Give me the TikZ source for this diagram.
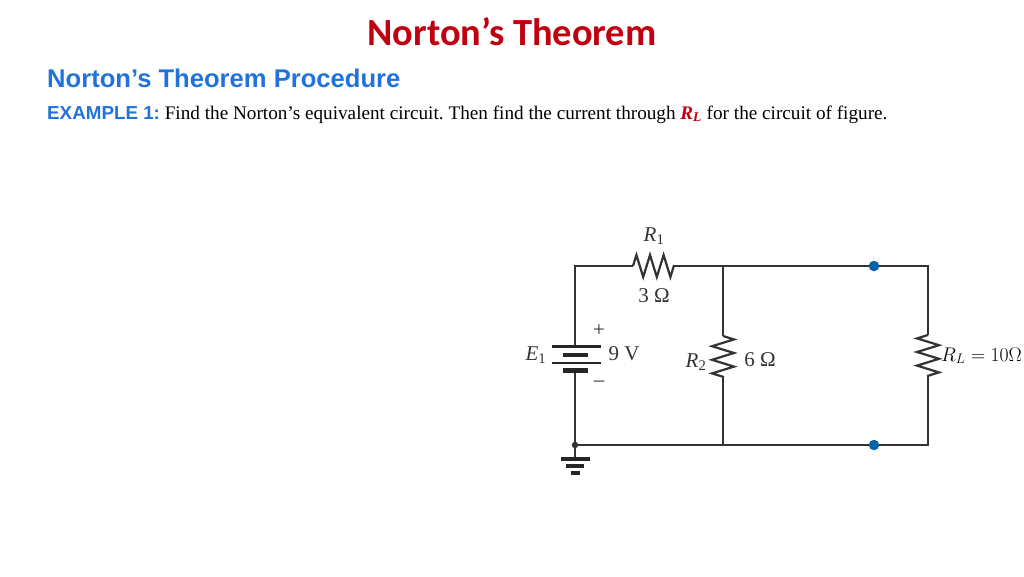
\documentclass[tikz,border=0pt]{standalone}
\usepackage{fix-cm}
\usepackage{fontspec}
\setmainfont{Liberation Serif}
\newfontfamily\titlefont{Carlito}
\newfontfamily\headfont{Liberation Sans}
\usepackage{xcolor}
\usetikzlibrary{positioning}
\usetikzlibrary{decorations.pathmorphing}
\definecolor{darkred}{HTML}{C00010}
\definecolor{headblue}{HTML}{2272DC}
\definecolor{dotblue}{HTML}{0563A8}
\definecolor{wiregray}{HTML}{333333}
\tikzset{wire/.style={draw=wiregray,line width=1.8pt}}
\tikzset{resh/.style={wire,line width=2.2pt,decorate,decoration={zigzag,segment length=13.6pt,amplitude=11pt}}}
\tikzset{resv/.style={wire,line width=2.2pt,decorate,decoration={zigzag,segment length=13.6pt,amplitude=11pt}}}
\tikzset{resw/.style={wire,line width=2.2pt,decorate,decoration={zigzag,segment length=13.6pt,amplitude=-11pt}}}
\tikzset{lplate/.style={draw=black!85,line width=2.4pt}}
\tikzset{splate/.style={draw=black!85,line width=4.5pt}}
\tikzset{gplate/.style={draw=black!85,line width=3.4pt}}
\tikzset{term/.style={circle,fill=dotblue,inner sep=0pt,minimum size=10.5pt}}
\tikzset{lbl/.style={text=wiregray,font=\fontsize{21}{21}\selectfont,inner sep=0pt,anchor=base}}
\newcommand{\Rlab}[2]{\textit{#1}\textsubscript{#2}}
\begin{document}
\frenchspacing
\begin{tikzpicture}[x=1pt,y=-1pt]
\useasboundingbox (0,0) rectangle (1024,576);
% headings
\node (title) [anchor=base,inner sep=0pt,text=darkred,font=\titlefont\bfseries\fontsize{38.4}{38}\selectfont] at (512,45) {Norton’s Theorem};
\node (head) [anchor=base west,inner sep=0pt,text=headblue,font=\headfont\bfseries\fontsize{25.6}{26}\selectfont] at (47,87) {Norton’s Theorem Procedure};
\node (example) [anchor=base west,inner sep=0pt,font=\fontsize{19.2}{19}\selectfont] at (47,119) {{\headfont\bfseries\fontsize{18.8}{19}\selectfont\color{headblue}EXAMPLE 1:} Find the Norton’s equivalent circuit. Then find the current through {\bfseries\itshape\color{darkred}R\textsubscript{L}} for the circuit of figure.};
%
\coordinate (tl) at (575,266);
\coordinate (tm) at (723,266);
\coordinate (tr) at (928,266);
\coordinate (bl) at (575,445);
\coordinate (bm) at (723,445);
\coordinate (br) at (928,445);
\coordinate (r1a) at (633,266);
\coordinate (r1b) at (674,266);
\coordinate (r2a) at (723,336);
\coordinate (r2b) at (723,377);
\coordinate (rla) at (928,335);
\coordinate (rlb) at (928,376);
\coordinate (bata) at (575,346.5);
\coordinate (batb) at (575,371);
\coordinate (gnd) at (575,459);
\node (ta) [term] at (874,266) {};
\node (tb) [term] at (874,445) {};
\node (jn) [circle,fill=wiregray,inner sep=0pt,minimum size=6.5pt] at (bl) {};
% wires
\draw[wire] (bata) -- (tl) -- (r1a);
\draw[wire] (r1b) -- (tm) -- (ta) -- (tr) -- (rla);
\draw[wire] (tm) -- (r2a);
\draw[wire] (r2b) -- (bm);
\draw[wire] (rlb) -- (br) -- (tb) -- (bm) -- (jn) -- (batb);
\draw[wire] (jn) -- (gnd);
% resistors
\draw[resh] (r1a) -- (r1b);
\draw[resv] (r2a) -- (r2b);
\draw[resw] (rla) -- (rlb);
% battery
\draw[lplate] (552,346.5) -- (600.5,346.5);
\draw[splate] (563,355) -- (588,355);
\draw[lplate] (552,362.7) -- (600.5,362.7);
\draw[splate] (563,370.7) -- (588,370.7);
% ground
\draw[gplate] (561,459) -- (590,459);
\draw[gplate] (566,466) -- (584,466);
\draw[gplate] (571,473) -- (580,473);
% labels
\node (r1name) [lbl] at (654,241) {\Rlab{R}{1}};
\node (r1val) [lbl] at (654,302.5) {3 Ω};
\node (e1name) [lbl] at (536,360) {\Rlab{E}{1}};
\node (plus) [lbl] at (599,336) {+};
\node (minus) [lbl] at (599,386) {–};
\node (evalue) [lbl] at (624,360) {9 V};
\node (r2name) [lbl] at (696,367) {\Rlab{R}{2}};
\node (r2val) [lbl] at (760,366) {6 Ω};
\node (rlname) [anchor=base west,inner sep=0pt,font=\fontsize{19.7}{20}\selectfont] at (941,361) {$R_L = 10\Omega$};
\end{tikzpicture}
\end{document}
